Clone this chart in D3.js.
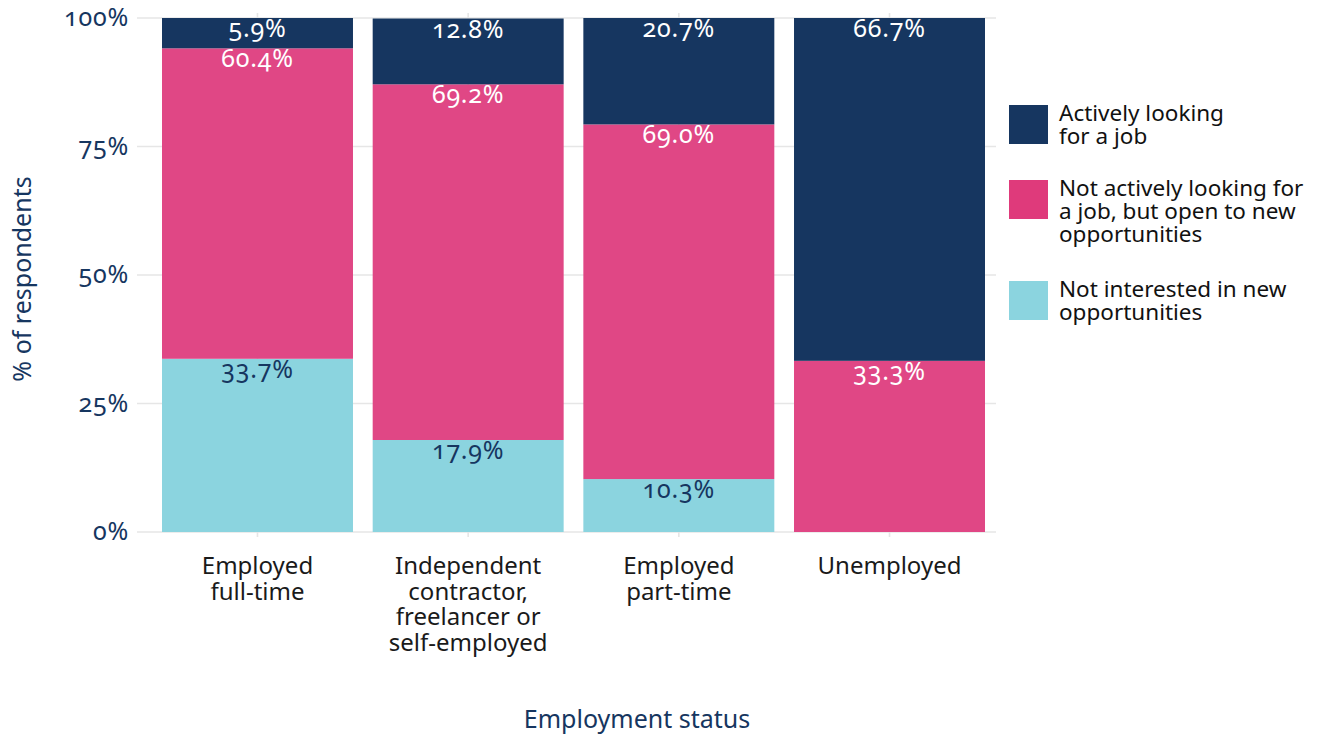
<!DOCTYPE html>
<html>
<head>
<meta charset="utf-8">
<script src="https://cdn.jsdelivr.net/npm/d3@7"></script>
<style>
  html, body { margin: 0; padding: 0; background: #ffffff; }
  svg { display: block; }
  .num { font-family: 'Noto Sans', sans-serif; font-variant-numeric: oldstyle-nums; font-feature-settings: "onum" 1; letter-spacing: 0.8px; }
</style>
</head>
<body>
<svg id="chart" width="1317" height="736"></svg>
<script>
// Employment status categories (x axis), each label split into lines
const categories = ["Employed full-time", "Independent contractor, freelancer or self-employed", "Employed part-time", "Unemployed"];
const categoryLines = [
  ["Employed", "full-time"],
  ["Independent", "contractor,", "freelancer or", "self-employed"],
  ["Employed", "part-time"],
  ["Unemployed"]
];

// Job-seeking status series, in stacking order from the bottom
const seriesNames = ["Not interested in new opportunities", "Not actively looking for a job, but open to new opportunities", "Actively looking for a job"];
const notInterested = [33.7, 17.9, 10.3, 0];
const openToNew     = [60.4, 69.2, 69.0, 33.3];
const activelyLooking = [5.9, 12.8, 20.7, 66.7];

// Legend order (top to bottom) and wrapped label lines
const legendOrder = ["Actively looking for a job", "Not actively looking for a job, but open to new opportunities", "Not interested in new opportunities"];
const legendLines = [
  ["Actively looking", "for a job"],
  ["Not actively looking for", "a job, but open to new", "opportunities"],
  ["Not interested in new", "opportunities"]
];

const yTicks = [0, 25, 50, 75, 100];
const yTickLabels = ["0%", "25%", "50%", "75%", "100%"];

const barColors = {
  "Actively looking for a job": "#163660",
  "Not actively looking for a job, but open to new opportunities": "#e04785",
  "Not interested in new opportunities": "#8bd4df"
};
const keyColors = {
  "Actively looking for a job": "#163660",
  "Not actively looking for a job, but open to new opportunities": "#df3a7b",
  "Not interested in new opportunities": "#8bd4df"
};
const labelColors = {
  "Actively looking for a job": "#ffffff",
  "Not actively looking for a job, but open to new opportunities": "#ffffff",
  "Not interested in new opportunities": "#163660"
};

const navy = "#163660";
const textFont = "'Noto Sans', sans-serif";

const svg = d3.select("#chart");

// Build table rows for stacking
const rows = categories.map((c, i) => ({
  category: c,
  [seriesNames[0]]: notInterested[i],
  [seriesNames[1]]: openToNew[i],
  [seriesNames[2]]: activelyLooking[i]
}));
const stacked = d3.stack().keys(seriesNames)(rows);

const x = d3.scaleBand()
  .domain(categories)
  .range([152, 995])
  .paddingInner(0.0935)
  .paddingOuter(0.0475);

const y = d3.scaleLinear().domain([0, 100]).range([532, 18]);

const panelLeft = 137, panelRight = 996, panelTop = 13, panelBottom = 537;

// Grid
const grid = svg.append("g");
grid.selectAll("line.h")
  .data(yTicks)
  .join("line")
  .attr("x1", panelLeft).attr("x2", panelRight)
  .attr("y1", d => y(d)).attr("y2", d => y(d))
  .attr("stroke", "#e6e6e6").attr("stroke-width", 1.6);
grid.selectAll("line.v")
  .data(categories)
  .join("line")
  .attr("x1", d => x(d) + x.bandwidth() / 2).attr("x2", d => x(d) + x.bandwidth() / 2)
  .attr("y1", panelTop).attr("y2", panelBottom)
  .attr("stroke", "#e6e6e6").attr("stroke-width", 1.6);

// Bars
const layers = svg.append("g").selectAll("g")
  .data(stacked)
  .join("g")
  .attr("fill", d => barColors[d.key]);

layers.selectAll("rect")
  .data(d => d.map(p => p))
  .join("rect")
  .attr("x", p => x(p.data.category))
  .attr("width", x.bandwidth())
  .attr("y", p => y(p[1]))
  .attr("height", p => y(p[0]) - y(p[1]));

// Value labels at the top of each segment
svg.append("g").selectAll("g")
  .data(stacked)
  .join("g")
  .attr("fill", d => labelColors[d.key])
  .selectAll("text")
  .data(d => d.filter(p => p[1] - p[0] > 0))
  .join("text")
  .attr("class", "num")
  .attr("x", p => x(p.data.category) + x.bandwidth() / 2)
  .attr("y", p => y(p[1]) + 19)
  .attr("text-anchor", "middle")
  .attr("font-size", 25)
  .text(p => d3.format(".1f")(p[1] - p[0]) + "%");

// Y axis tick labels
const yAxis = d3.axisLeft(y).tickValues(yTicks).tickFormat((d, i) => yTickLabels[i]).tickSize(0).tickPadding(0);
const yG = svg.append("g").attr("transform", "translate(129,0)").call(yAxis);
yG.select(".domain").remove();
yG.selectAll("text")
  .attr("class", "num")
  .attr("font-family", null)
  .attr("font-size", 25)
  .attr("fill", navy)
  .attr("dy", "0.3em");

// X axis category labels
const xG = svg.append("g");
categories.forEach((c, i) => {
  const cx = x(c) + x.bandwidth() / 2;
  const t = xG.append("text")
    .attr("x", cx)
    .attr("y", 574)
    .attr("text-anchor", "middle")
    .attr("font-family", textFont)
    .attr("font-size", 24)
    .attr("fill", "#1a1a1a");
  categoryLines[i].forEach((line, j) => {
    t.append("tspan").attr("x", cx).attr("y", 574 + j * 25.5).text(line);
  });
});

// Axis titles
svg.append("text")
  .attr("x", 637)
  .attr("y", 728)
  .attr("text-anchor", "middle")
  .attr("font-family", textFont)
  .attr("font-size", 25)
  .attr("fill", navy)
  .text("Employment status");

svg.append("text")
  .attr("transform", "translate(31,279) rotate(-90)")
  .attr("text-anchor", "middle")
  .attr("font-family", textFont)
  .attr("font-size", 25)
  .attr("fill", navy)
  .text("% of respondents");

// Legend
const legendTops = [105, 180, 281];
const legend = svg.append("g");
legendOrder.forEach((key, i) => {
  const g = legend.append("g").attr("transform", `translate(1009,${legendTops[i]})`);
  g.append("rect").attr("width", 39).attr("height", 39).attr("fill", keyColors[key]);
  const t = g.append("text")
    .attr("font-family", textFont)
    .attr("font-size", 22.5)
    .attr("fill", "#111111");
  legendLines[i].forEach((line, j) => {
    t.append("tspan").attr("x", 50).attr("y", 16 + j * 23).text(line);
  });
});
</script>
</body>
</html>
